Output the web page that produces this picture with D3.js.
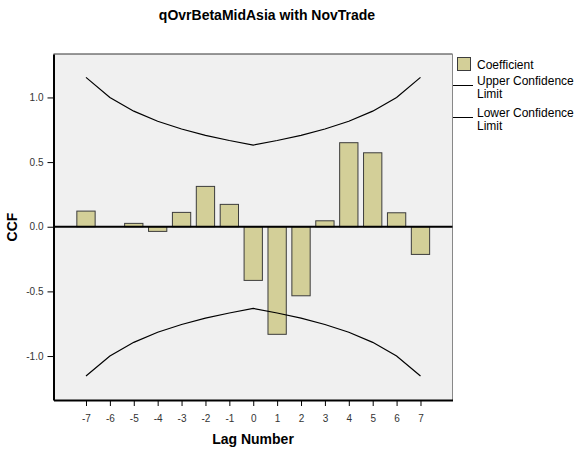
<!DOCTYPE html>
<html>
<head>
<meta charset="utf-8">
<script src="https://cdn.jsdelivr.net/npm/d3@7"></script>
<style>
  body { margin: 0; background: #fff; }
  svg { font-family: "Liberation Sans", Arial, sans-serif; }
</style>
</head>
<body>
<div id="chart"></div>
<script>
// data
const lags = [-7, -6, -5, -4, -3, -2, -1, 0, 1, 2, 3, 4, 5, 6, 7];
const coefficient = [0.121, 0, 0.026, -0.036, 0.111, 0.312, 0.173, -0.415, -0.832, -0.534, 0.046, 0.65, 0.572, 0.108, -0.214];
const upperLimit = [1.155, 1.0, 0.894, 0.816, 0.756, 0.707, 0.667, 0.632, 0.667, 0.707, 0.756, 0.816, 0.894, 1.0, 1.155];
const lowerLimit = [-1.155, -1.0, -0.894, -0.816, -0.756, -0.707, -0.667, -0.632, -0.667, -0.707, -0.756, -0.816, -0.894, -1.0, -1.155];
const yTicks = [-1.0, -0.5, 0.0, 0.5, 1.0];
const legendItems = ["Coefficient", ["Upper Confidence", "Limit"], ["Lower Confidence", "Limit"]];

const W = 584, H = 449;
const plot = { left: 53.5, top: 54, right: 452.5, bottom: 400 };

const svg = d3.select("#chart")
  .append("svg")
  .attr("width", W)
  .attr("height", H);

const x = d3.scaleLinear()
  .domain([-8.36, 8.34])
  .range([plot.left, plot.right]);

const y = d3.scaleLinear()
  .domain([-1.34, 1.336])
  .range([plot.bottom, plot.top]);

const barW = 18.3;

// plot background
svg.append("rect")
  .attr("x", plot.left)
  .attr("y", plot.top)
  .attr("width", plot.right - plot.left)
  .attr("height", plot.bottom - plot.top)
  .attr("fill", "#f0f0f0")
  .attr("stroke", "none");

// top & right frame
svg.append("line")
  .attr("x1", plot.left).attr("x2", plot.right)
  .attr("y1", plot.top).attr("y2", plot.top)
  .attr("stroke", "#333").attr("stroke-width", 1);
svg.append("line")
  .attr("x1", plot.right).attr("x2", plot.right)
  .attr("y1", plot.top).attr("y2", plot.bottom)
  .attr("stroke", "#888").attr("stroke-width", 1);

// bars
svg.selectAll(".bar")
  .data(lags.map((l, i) => [l, coefficient[i]]).filter(d => d[1] !== 0))
  .join("rect")
  .attr("class", "bar")
  .attr("x", d => x(d[0]) - barW / 2)
  .attr("y", d => y(Math.max(0, d[1])))
  .attr("width", barW)
  .attr("height", d => Math.abs(y(d[1]) - y(0)))
  .attr("fill", "#d3cf98")
  .attr("stroke", "#3c3c3c")
  .attr("stroke-width", 1);

// confidence limits
const line = d3.line()
  .x(d => x(d[0]))
  .y(d => y(d[1]));
[upperLimit, lowerLimit].forEach(lim => {
  svg.append("path")
    .datum(lags.map((l, i) => [l, lim[i]]))
    .attr("d", line)
    .attr("fill", "none")
    .attr("stroke", "#000")
    .attr("stroke-width", 1.2);
});

// zero reference line
svg.append("line")
  .attr("x1", plot.left).attr("x2", plot.right)
  .attr("y1", y(0)).attr("y2", y(0))
  .attr("stroke", "#000")
  .attr("stroke-width", 2);

// X axis
const xAxis = d3.axisBottom(x)
  .tickValues(lags)
  .tickFormat(d => String(d))
  .tickSize(6)
  .tickSizeOuter(0)
  .tickPadding(9);
const xAxisElement = svg.append("g")
  .attr("transform", "translate(0," + plot.bottom + ")")
  .call(xAxis);
xAxisElement.select(".domain")
  .attr("stroke", "#000").attr("stroke-width", 2);
xAxisElement.selectAll(".tick line").attr("stroke", "#000");
xAxisElement.selectAll("text")
  .attr("font-size", 10)
  .attr("fill", "#333")
  .attr("font-family", "Liberation Sans, Arial, sans-serif");

// Y axis
const yAxis = d3.axisLeft(y)
  .tickValues(yTicks)
  .tickFormat(d => d.toFixed(1))
  .tickSize(6)
  .tickSizeOuter(0)
  .tickPadding(4);
const yAxisElement = svg.append("g")
  .attr("transform", "translate(" + plot.left + ",0)")
  .call(yAxis);
yAxisElement.select(".domain")
  .attr("stroke", "#000").attr("stroke-width", 2);
yAxisElement.selectAll(".tick line").attr("stroke", "#000");
yAxisElement.selectAll("text")
  .attr("font-size", 10)
  .attr("fill", "#333")
  .attr("font-family", "Liberation Sans, Arial, sans-serif");

// title & axis titles
svg.append("text")
  .attr("x", 267)
  .attr("y", 20)
  .attr("text-anchor", "middle")
  .attr("font-size", 14)
  .attr("font-weight", "bold")
  .text("qOvrBetaMidAsia with NovTrade");

svg.append("text")
  .attr("x", 253)
  .attr("y", 444)
  .attr("text-anchor", "middle")
  .attr("font-size", 14)
  .attr("font-weight", "bold")
  .text("Lag Number");

svg.append("text")
  .attr("transform", "translate(17,227) rotate(-90)")
  .attr("text-anchor", "middle")
  .attr("font-size", 14)
  .attr("font-weight", "bold")
  .text("CCF");

// legend
const legend = svg.append("g").attr("font-size", 12).attr("fill", "#000");
legend.append("rect")
  .attr("x", 457.5).attr("y", 57.5)
  .attr("width", 13).attr("height", 13)
  .attr("fill", "#d3cf98")
  .attr("stroke", "#3c3c3c");
legend.append("text")
  .attr("x", 477).attr("y", 68.5)
  .text(legendItems[0]);

[[85.5, 85], [117.5, 116.5]].forEach(([ly, ty], i) => {
  legend.append("line")
    .attr("x1", 453).attr("x2", 473)
    .attr("y1", ly).attr("y2", ly)
    .attr("stroke", "#000");
  const t = legend.append("text").attr("x", 477).attr("y", ty);
  legendItems[i + 1].forEach((s, j) => {
    t.append("tspan").attr("x", 477).attr("dy", j === 0 ? 0 : 13).text(s);
  });
});
</script>
</body>
</html>
